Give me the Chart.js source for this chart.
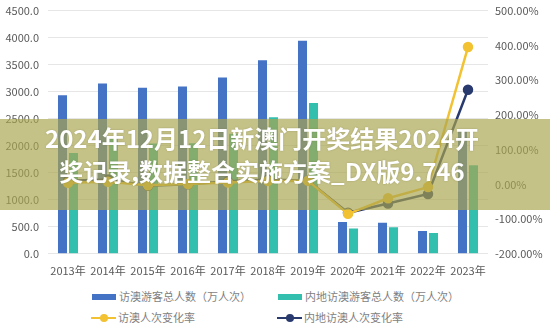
<!DOCTYPE html>
<html lang="zh-CN">
<head>
  <meta charset="UTF-8">
  <title>访澳游客人数</title>
  <script src="https://cdn.jsdelivr.net/npm/chart.js"></script>
  <style>
    body { margin: 0; background: #fff; font-family: "Noto Sans CJK SC", "Noto Sans", sans-serif; }
    #wrap { position: relative; width: 550px; height: 331px; overflow: hidden; }
    #chart-box { position: absolute; left: 0; top: -5px; width: 550px; height: 292px; }
    #banner {
      position: absolute; left: 0; top: 119px; width: 550px; height: 91px;
      background: rgba(170, 165, 80, 0.68);
      color: #fff; font-weight: bold; font-size: 24px; line-height: 33px;
      text-align: center; box-sizing: border-box; padding: 2px 26px 0 0;
      text-shadow: 0 0 2px rgba(90, 90, 40, 0.35);
    }
    .leg-row { position: absolute; left: 0; width: 550px; height: 14px; font-size: 11px; color: #7f7f7f; }
    .leg-item { position: absolute; top: 0; height: 14px; line-height: 14px; white-space: nowrap; }
    .leg-box { display: inline-block; width: 24px; height: 6px; vertical-align: middle; margin-right: 3px; position: relative; top: -1px; }
    .leg-line { display: inline-block; width: 25px; height: 2px; vertical-align: middle; margin-right: 2px; position: relative; top: -1px; }
    .leg-line i { position: absolute; left: 9px; top: -3px; width: 8px; height: 8px; border-radius: 50%; }
  </style>
</head>
<body>
  <div id="wrap">
    <div id="chart-box"><canvas id="grafico"></canvas></div>

    <div class="leg-row" style="top: 289px;">
      <span class="leg-item" style="left: 92px;"><span class="leg-box" style="background:#4472c4"></span>访澳游客总人数（万人次）</span>
      <span class="leg-item" style="left: 278px;"><span class="leg-box" style="background:#33bfae"></span>内地访澳游客总人数（万人次）</span>
    </div>
    <div class="leg-row" style="top: 310px;">
      <span class="leg-item" style="left: 91px;"><span class="leg-line" style="background:#f2c232"><i style="background:#f2c232"></i></span>访澳人次变化率</span>
      <span class="leg-item" style="left: 277px;"><span class="leg-line" style="background:#283a6e"><i style="background:#283a6e"></i></span>内地访澳人次变化率</span>
    </div>

    <div id="banner">2024年12月12日新澳门开奖结果2024开<br>奖记录,数据整合实施方案_DX版9.746</div>
  </div>

  <script>
    // 数据
    const anos = ['2013年', '2014年', '2015年', '2016年', '2017年', '2018年', '2019年', '2020年', '2021年', '2022年', '2023年'];
    const totalVisitantes = [2932.5, 3152.5, 3071.5, 3095.0, 3261.1, 3580.4, 3940.6, 589.7, 575.0, 424.0, 2270.0];
    const visitantesInterior = [1863.2, 2125.2, 2041.0, 2045.5, 2219.6, 2526.1, 2792.3, 470.0, 490.0, 387.0, 1640.0];
    const taxaTotal = [4.4, 7.5, -2.6, 0.8, 5.4, 9.8, 10.1, -85.0, -40.0, -8.0, 395.0];
    const taxaInterior = [10.5, 14.1, -4.0, 0.2, 8.5, 13.8, 10.5, -82.0, -55.0, -28.0, 272.0];

    const leftTicks = { min: 0, max: 4500, step: 500 };
    const rightTicks = { min: -200, max: 500, step: 100 };

    const fonteEixo = { family: '"Noto Sans CJK SC", "Noto Sans", sans-serif', size: 11 };
    const corTexto = '#595959';

    new Chart(document.getElementById('grafico'), {
      type: 'bar',
      data: {
        labels: anos,
        datasets: [
          { type: 'line', label: '访澳人次变化率', data: taxaTotal, yAxisID: 'y1', order: 0,
            borderColor: '#f2c232', backgroundColor: '#f2c232', borderWidth: 2.5,
            pointRadius: 4, pointHoverRadius: 4, tension: 0 },
          { type: 'line', label: '内地访澳人次变化率', data: taxaInterior, yAxisID: 'y1', order: 0,
            borderColor: '#283a6e', backgroundColor: '#283a6e', borderWidth: 2.5,
            pointRadius: 4, pointHoverRadius: 4, tension: 0 },
          { label: '访澳游客总人数（万人次）', data: totalVisitantes, yAxisID: 'y', order: 1,
            backgroundColor: '#4472c4', barPercentage: 0.82, categoryPercentage: 0.55 },
          { label: '内地访澳游客总人数（万人次）', data: visitantesInterior, yAxisID: 'y', order: 1,
            backgroundColor: '#33bfae', barPercentage: 0.82, categoryPercentage: 0.55 }
        ]
      },
      options: {
        responsive: true,
        maintainAspectRatio: false,
        animation: false,
        layout: { padding: { top: 0, bottom: 0, left: 0, right: 0 } },
        plugins: { legend: { display: false }, tooltip: { enabled: false } },
        scales: {
          x: {
            grid: { display: false, drawTicks: false },
            border: { display: false },
            ticks: { color: corTexto, font: fonteEixo, padding: 10, maxRotation: 0 }
          },
          y: {
            position: 'left',
            min: leftTicks.min, max: leftTicks.max,
            grid: { color: '#e6e6e6', drawTicks: false },
            border: { display: false },
            ticks: { stepSize: leftTicks.step, color: corTexto, font: fonteEixo, padding: 9,
                     callback: v => v.toFixed(1) },
            afterFit: s => { s.width = 48; }
          },
          y1: {
            position: 'right',
            min: rightTicks.min, max: rightTicks.max,
            grid: { drawOnChartArea: false, drawTicks: false },
            border: { display: false },
            ticks: { stepSize: rightTicks.step, color: corTexto, font: fonteEixo, padding: 7,
                     callback: v => v.toFixed(2) + '%' },
            afterFit: s => { s.width = 62; }
          }
        }
      }
    });
  </script>
</body>
</html>
